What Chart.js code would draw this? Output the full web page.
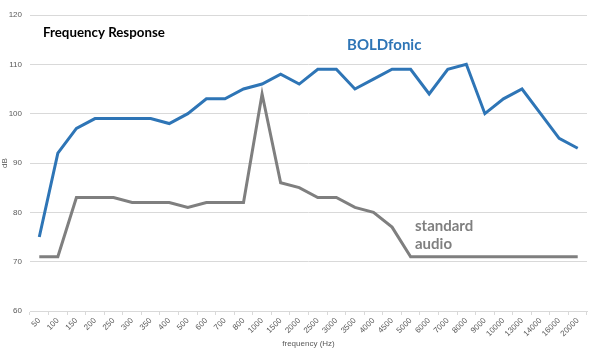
<!DOCTYPE html>
<html><head><meta charset="utf-8">
<script src="https://cdn.jsdelivr.net/npm/chart.js@4"></script>
<style>html,body{margin:0;padding:0;background:#fff}#w{width:600px;height:355px}</style>
</head><body><div id="w"><canvas id="c" width="600" height="355"></canvas></div>
<script>
const frequencies = ["50","100","150","200","250","300","350","400","500","600","700","800","1000","1500","2000","2500","3000","3500","4000","4500","5000","6000","7000","8000","9000","10000","13000","14000","16000","20000"];
const boldfonic = [75,92,97,99,99,99,99,98,100,103,103,105,106,108,106,109,109,105,107,109,109,104,109,110,100,103,105,100,95,93];
const standardAudio = [71,71,83,83,83,82,82,82,81,82,82,82,104,86,85,83,83,81,80,77,71,71,71,71,71,71,71,71,71,71];
const yTicks = [60,70,80,90,100,110,120];

const labelsPlugin = {
  id: 'labels',
  afterDraw(chart) {
    const ctx = chart.ctx;
    ctx.save();
    ctx.textBaseline = 'alphabetic';
    ctx.textAlign = 'left';
    ctx.fillStyle = '#000';
    ctx.font = 'bold 13.3px Lato, "Open Sans", sans-serif';
    ctx.fillText('Frequency Response', 43, 37);
    ctx.fillStyle = '#2E75B6';
    ctx.font = 'bold 15px Lato, "Open Sans", sans-serif';
    ctx.fillText('BOLDfonic', 347, 50);
    ctx.fillStyle = '#7F7F7F';
    ctx.fillText('standard', 415, 231);
    ctx.fillText('audio', 415, 249);
    ctx.restore();
  }
};

new Chart(document.getElementById('c'), {
  type: 'line',
  data: {
    labels: frequencies,
    datasets: [
      {label: 'BOLDfonic', data: boldfonic, borderColor: '#2E75B6', borderWidth: 3, pointRadius: 0, tension: 0, fill: false},
      {label: 'standard audio', data: standardAudio, borderColor: '#7F7F7F', borderWidth: 3, pointRadius: 0, tension: 0, fill: false}
    ]
  },
  options: {
    responsive: false,
    animation: false,
    layout: {padding: {top: 15, right: 13, left: 0, bottom: 0}},
    plugins: {legend: {display: false}, tooltip: {enabled: false}},
    scales: {
      x: {
        offset: true,
        grid: {display: true, drawOnChartArea: false, drawTicks: true, tickLength: 4, color: '#D9D9D9', offset: true},
        border: {display: true, color: '#D9D9D9'},
        ticks: {minRotation: 45, maxRotation: 45, autoSkip: false, color: '#595959', font: {size: 8, family: 'Liberation Sans, Arial, sans-serif'}, padding: 1},
        title: {display: true, text: 'frequency (Hz)', color: '#595959', font: {size: 8, family: 'Liberation Sans, Arial, sans-serif'}, padding: {top: 2, bottom: 6}},
        afterFit(s) { s.height = 44; }
      },
      y: {
        min: 60, max: 120,
        afterBuildTicks(s) { s.ticks = yTicks.map(v => ({value: v})); },
        grid: {color: '#D9D9D9', drawTicks: false},
        border: {display: false},
        ticks: {color: '#595959', font: {size: 8, family: 'Liberation Sans, Arial, sans-serif'}, padding: 8},
        title: {display: true, text: 'dB', color: '#595959', font: {size: 8, family: 'Liberation Sans, Arial, sans-serif'}, padding: 0},
        afterFit(s) { s.width = 30; }
      }
    }
  },
  plugins: [labelsPlugin]
});
</script></body></html>
